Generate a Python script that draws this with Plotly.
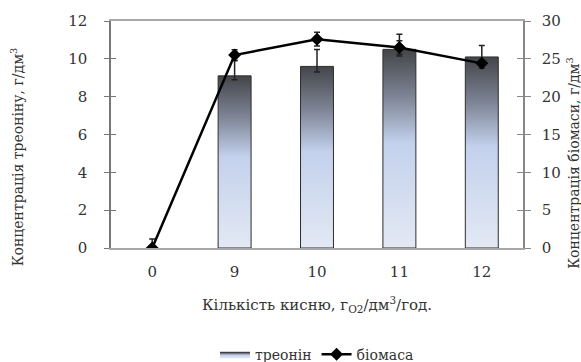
import plotly.graph_objects as go

# Oxygen supply levels (categories on the x axis)
oxygen = ["0", "9", "10", "11", "12"]

# Threonine concentration, g/dm3 (bars, left axis)
threonine = [0, 9.1, 9.6, 10.5, 10.1]
threonine_err_plus = [0, 0.8, 0.9, 0.8, 0.6]
threonine_err_minus = [0, 0.2, 0.3, 0.35, 0.6]

# Biomass concentration, g/dm3 (line, right axis)
biomass = [0, 25.5, 27.6, 26.5, 24.4]
biomass_err = [1.2, 0.7, 0.9, 0.9, 0.4]

FONT = "DejaVu Serif"
TXT = "#333"
BAR_HALF = 0.2
BAR_SCALE = [
    [0.0, "#e3e9f4"],
    [0.53, "#c3d1ec"],
    [0.76, "#7e8596"],
    [1.0, "#444549"],
]

positions = list(range(len(oxygen)))
fig = go.Figure()

# Gradient-filled bars for threonine
first = True
for pos, val in zip(positions, threonine):
    if val <= 0:
        continue
    fig.add_trace(go.Scatter(
        x=[pos - BAR_HALF, pos - BAR_HALF, pos + BAR_HALF, pos + BAR_HALF, pos - BAR_HALF],
        y=[0, val, val, 0, 0],
        mode="lines",
        fill="toself",
        fillgradient=dict(type="vertical", colorscale=BAR_SCALE),
        line=dict(color="#2e2e2e", width=1),
        name="треонін",
        legendgroup="thr",
        showlegend=first,
        hoverinfo="skip",
    ))
    first = False

# Error bars for threonine
fig.add_trace(go.Scatter(
    x=positions,
    y=threonine,
    mode="markers",
    marker=dict(size=1, opacity=0),
    error_y=dict(type="data", array=threonine_err_plus, arrayminus=threonine_err_minus,
                 symmetric=False, color="#222", thickness=1.5, width=3),
    showlegend=False,
    hoverinfo="skip",
))

# Biomass line on the secondary axis
fig.add_trace(go.Scatter(
    x=positions,
    y=biomass,
    yaxis="y2",
    mode="lines+markers",
    name="біомаса",
    line=dict(color="black", width=2.5),
    marker=dict(symbol="diamond", size=10, color="black"),
    error_y=dict(type="data", array=biomass_err, color="#222", thickness=1.5, width=3),
))

# helper traces so the inner tick axes render
fig.add_trace(go.Scatter(x=[None], y=[None], yaxis="y3", showlegend=False, hoverinfo="skip"))
fig.add_trace(go.Scatter(x=[None], y=[None], yaxis="y4", showlegend=False, hoverinfo="skip"))

tickfont = dict(family=FONT, size=15, color=TXT)

fig.update_layout(
    width=581,
    height=362,
    margin=dict(l=111, r=58, t=21, b=114, autoexpand=False),
    paper_bgcolor="white",
    plot_bgcolor="white",
    font=dict(family=FONT, color=TXT),
    xaxis=dict(
        range=[-0.5, len(oxygen) - 0.5],
        tickmode="array",
        tickvals=positions,
        ticktext=oxygen,
        ticks="",
        ticklabelstandoff=9,
        tickfont=tickfont,
        showgrid=False,
        zeroline=False,
        showline=True,
        linecolor="#a8a8a8",
        linewidth=1.5,
        mirror=True,
    ),
    yaxis=dict(
        range=[0, 12],
        dtick=2,
        ticks="outside",
        ticklen=5,
        tickcolor="#777",
        ticklabelstandoff=14,
        tickfont=tickfont,
        showgrid=False,
        zeroline=False,
        showline=True,
        linecolor="#777",
        linewidth=1.5,
    ),
    yaxis2=dict(
        range=[0, 30],
        dtick=5,
        overlaying="y",
        side="right",
        anchor="x",
        ticks="outside",
        ticklen=6,
        tickcolor="#888",
        ticklabelstandoff=8,
        tickfont=tickfont,
        showgrid=False,
        zeroline=False,
        showline=True,
        linecolor="#888",
        linewidth=1.5,
    ),
    # inner halves of the crossing tick marks
    yaxis3=dict(
        range=[0, 12], dtick=2, overlaying="y", side="left", anchor="x",
        ticks="inside", ticklen=5, tickcolor="#777", showticklabels=False,
        showgrid=False, zeroline=False, showline=False,
    ),
    yaxis4=dict(
        range=[0, 30], dtick=5, overlaying="y", side="right", anchor="x",
        ticks="inside", ticklen=6, tickcolor="#888", showticklabels=False,
        showgrid=False, zeroline=False, showline=False,
    ),
    legend=dict(
        orientation="h",
        x=0.5, xanchor="center",
        y=-0.47, yanchor="middle",
        font=dict(family=FONT, size=14, color=TXT),
        itemwidth=30,
        tracegroupgap=0,
    ),
    annotations=[
        dict(
            text="Концентрація треоніну, г/дм<sup>3</sup>",
            xref="paper", yref="paper",
            x=-0.228, y=0.40, xanchor="center", yanchor="middle",
            textangle=-90, showarrow=False,
            font=dict(family=FONT, size=14, color=TXT),
        ),
        dict(
            text="Концентрація біомаси, г/дм<sup>3</sup>",
            xref="paper", yref="paper",
            x=1.121, y=0.375, xanchor="center", yanchor="middle",
            textangle=-90, showarrow=False,
            font=dict(family=FONT, size=14, color=TXT),
        ),
        dict(
            text="Кількість кисню, г<sub>O2</sub>/дм<sup>3</sup>/год.",
            xref="paper", yref="paper",
            x=0.5, y=-0.25, xanchor="center", yanchor="middle",
            showarrow=False,
            font=dict(family=FONT, size=15, color=TXT),
        ),
    ],
)

fig.write_html("out.html")
